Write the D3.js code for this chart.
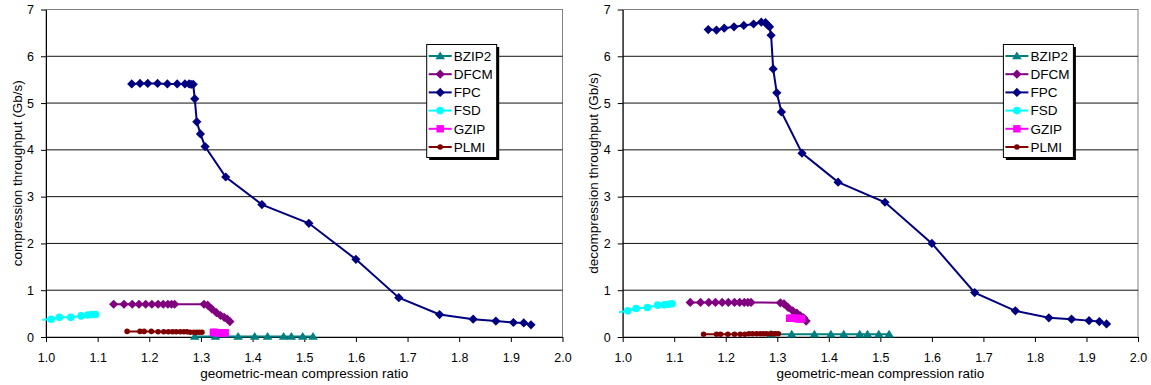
<!DOCTYPE html>
<html>
<head>
<meta charset="utf-8">
<script src="https://cdn.jsdelivr.net/npm/d3@7"></script>
<style>
  body { margin: 0; background: #fff; }
  svg { display: block; font-family: "Liberation Sans", Arial, sans-serif; }
  .tick text { font-size: 12.5px; fill: #000; }
  .title { font-size: 13.5px; fill: #000; }
  .legend text { font-size: 13.5px; fill: #000; }
</style>
</head>
<body>
<svg width="1151" height="385"></svg>
<script>
// data: x is the geometric-mean compression ratio (shared by both panels)
const seriesNames = ['BZIP2', 'DFCM', 'FPC', 'FSD', 'GZIP', 'PLMI']
const xTicks = [1.0, 1.1, 1.2, 1.3, 1.4, 1.5, 1.6, 1.7, 1.8, 1.9, 2.0]
const yTicks = [0, 1, 2, 3, 4, 5, 6, 7]

const ratioBZIP2 = [1.288, 1.328, 1.372, 1.404, 1.429, 1.460, 1.475, 1.497, 1.517]
const compBZIP2 = [0.01, 0.01, 0.01, 0.01, 0.01, 0.01, 0.01, 0.01, 0.01]
const decompBZIP2 = [0.06, 0.06, 0.06, 0.06, 0.06, 0.06, 0.06, 0.06, 0.06]

const ratioDFCM = [1.131, 1.151, 1.167, 1.180, 1.193, 1.205, 1.217, 1.227, 1.236, 1.243, 1.249,
  1.306, 1.313, 1.321, 1.330, 1.338, 1.345, 1.351, 1.356]
const compDFCM = [0.70, 0.70, 0.70, 0.70, 0.70, 0.70, 0.70, 0.70, 0.70, 0.70, 0.70,
  0.70, 0.68, 0.60, 0.52, 0.46, 0.42, 0.38, 0.33]
const decompDFCM = [0.74, 0.74, 0.74, 0.74, 0.74, 0.74, 0.74, 0.74, 0.74, 0.74, 0.74,
  0.73, 0.71, 0.63, 0.56, 0.51, 0.45, 0.41, 0.34]

const ratioFPC = [1.166, 1.182, 1.197, 1.216, 1.235, 1.254, 1.269, 1.277, 1.281, 1.285, 1.288,
  1.292, 1.299, 1.308, 1.348, 1.418, 1.509, 1.600, 1.683, 1.762, 1.827, 1.871, 1.905, 1.925, 1.939]
const compFPC = [5.41, 5.42, 5.42, 5.42, 5.41, 5.41, 5.41, 5.41, 5.40, 5.40, 5.09,
  4.60, 4.34, 4.07, 3.42, 2.83, 2.43, 1.66, 0.84, 0.48, 0.38, 0.34, 0.31, 0.30, 0.26]
const decompFPC = [6.57, 6.56, 6.60, 6.63, 6.66, 6.69, 6.73, 6.72, 6.67, 6.63, 6.45,
  5.73, 5.22, 4.81, 3.93, 3.31, 2.88, 2.00, 0.95, 0.56, 0.41, 0.38, 0.35, 0.33, 0.28]

const ratioFSD = [0.993, 1.010, 1.026, 1.048, 1.068, 1.081, 1.089, 1.096]
const compFSD = [0.37, 0.38, 0.42, 0.42, 0.45, 0.47, 0.48, 0.48]
const decompFSD = [0.53, 0.56, 0.61, 0.63, 0.68, 0.69, 0.70, 0.71]

const ratioGZIP = [1.324, 1.327, 1.330, 1.333, 1.336, 1.339, 1.342, 1.345, 1.347]
const compGZIP = [0.10, 0.10, 0.09, 0.09, 0.09, 0.09, 0.09, 0.09, 0.09]
const decompGZIP = [0.40, 0.40, 0.40, 0.40, 0.40, 0.39, 0.39, 0.39, 0.39]

const ratioPLMI = [1.157, 1.182, 1.190, 1.204, 1.217, 1.228, 1.237, 1.245, 1.252, 1.260, 1.267,
  1.273, 1.279, 1.286, 1.292, 1.297, 1.302]
const compPLMI = [0.12, 0.12, 0.12, 0.12, 0.11, 0.11, 0.11, 0.11, 0.11, 0.11, 0.11,
  0.11, 0.10, 0.10, 0.10, 0.10, 0.10]
const decompPLMI = [0.06, 0.06, 0.06, 0.06, 0.06, 0.06, 0.06, 0.07, 0.07, 0.07, 0.07,
  0.07, 0.07, 0.07, 0.07, 0.07, 0.07]

// styles
const colors = {
  BZIP2: '#008080', DFCM: '#800080', FPC: '#000080',
  FSD: '#00ffff', GZIP: '#ff00ff', PLMI: '#800000'
}
const markers = {
  BZIP2: 'M0,-4.5L4.8,3.2L-4.8,3.2Z',
  DFCM: 'M0,-4.6L4.6,0L0,4.6L-4.6,0Z',
  FPC: 'M0,-4.6L4.6,0L0,4.6L-4.6,0Z',
  FSD: d3.symbol(d3.symbolCircle, 46)(),
  GZIP: 'M-3.7,-3.7H3.7V3.7H-3.7Z',
  PLMI: d3.symbol(d3.symbolCircle, 24)()
}

function zip(xs, ys){
  return xs.map((x, i) => ({x: x, y: ys[i]}))
}

const panels = [
  {
    left: 46, right: 562.5, titleX: 21.5,
    title: 'compression throughput (Gb/s)',
    series: {
      BZIP2: zip(ratioBZIP2, compBZIP2), DFCM: zip(ratioDFCM, compDFCM),
      FPC: zip(ratioFPC, compFPC), FSD: zip(ratioFSD, compFSD),
      GZIP: zip(ratioGZIP, compGZIP), PLMI: zip(ratioPLMI, compPLMI)
    }
  },
  {
    left: 622.7, right: 1138, titleX: 598,
    title: 'decompression throughput (Gb/s)',
    series: {
      BZIP2: zip(ratioBZIP2, decompBZIP2), DFCM: zip(ratioDFCM, decompDFCM),
      FPC: zip(ratioFPC, decompFPC), FSD: zip(ratioFSD, decompFSD),
      GZIP: zip(ratioGZIP, decompGZIP), PLMI: zip(ratioPLMI, decompPLMI)
    }
  }
]

const plotTop = 9.5
const plotBottom = 337
const $svg = d3.select('svg')

panels.forEach((p, pi) => {
  const scaleX = d3.scaleLinear().domain([1, 2]).range([p.left, p.right])
  const scaleY = d3.scaleLinear().domain([0, 7]).range([plotBottom, plotTop])
  const $g = $svg.append('g')

  $g.append('clipPath').attr('id', 'clip' + pi)
    .append('rect')
    .attr('x', p.left).attr('y', plotTop - 6)
    .attr('width', p.right - p.left).attr('height', plotBottom - plotTop + 12)

  // plot area border
  $g.append('rect')
    .attr('x', p.left).attr('y', plotTop)
    .attr('width', p.right - p.left).attr('height', plotBottom - plotTop)
    .attr('fill', 'none').attr('stroke', '#808080')

  // gridlines
  $g.append('g')
    .selectAll('line')
    .data(yTicks.filter(d => d > 0 && d < 7))
    .enter()
    .append('line')
    .attr('x1', p.left).attr('x2', p.right)
    .attr('y1', d => scaleY(d)).attr('y2', d => scaleY(d))
    .attr('stroke', '#111')

  // axes
  $g.append('g')
    .attr('transform', `translate(0, ${plotBottom})`)
    .call(d3.axisBottom(scaleX)
      .tickValues(xTicks)
      .tickSize(5)
      .tickSizeOuter(0)
      .tickPadding(11)
      .tickFormat(d3.format('.1f')))
  $g.append('g')
    .attr('transform', `translate(${p.left}, 0)`)
    .call(d3.axisLeft(scaleY)
      .tickValues(yTicks)
      .tickSize(5)
      .tickSizeOuter(0)
      .tickPadding(7)
      .tickFormat(d3.format('d')))
  $g.selectAll('.domain, .tick line').attr('stroke', '#000')
  $g.selectAll('g text').attr('font-family', null).attr('font-size', null)

  // titles
  $g.append('text')
    .attr('class', 'title')
    .attr('x', (p.left + p.right) / 2)
    .attr('y', 378)
    .attr('text-anchor', 'middle')
    .text('geometric-mean compression ratio')

  $g.append('text')
    .attr('class', 'title')
    .attr('transform', `translate(${p.titleX}, ${(plotTop + plotBottom) / 2}) rotate(-90)`)
    .attr('text-anchor', 'middle')
    .text(p.title)

  // series
  const line = d3.line().x(d => scaleX(d.x)).y(d => scaleY(d.y))
  seriesNames.forEach(name => {
    const $s = $g.append('g').attr('class', 'series')
    $s.append('path')
      .datum(p.series[name])
      .attr('d', line)
      .attr('fill', 'none')
      .attr('stroke', colors[name])
      .attr('stroke-width', 2)
    $s.append('g')
      .attr('clip-path', `url(#clip${pi})`)
      .selectAll('path')
      .data(p.series[name])
      .enter()
      .append('path')
      .attr('d', markers[name])
      .attr('transform', d => `translate(${scaleX(d.x)}, ${scaleY(d.y)})`)
      .attr('fill', colors[name])
  })

  // legend
  const lx = p.left + 380.7
  const ly = 44.5
  const $legend = $g.append('g').attr('class', 'legend')
  $legend.append('rect')
    .attr('x', lx + 2.5).attr('y', ly + 2.5)
    .attr('width', 70).attr('height', 113)
    .attr('fill', '#000')
  $legend.append('rect')
    .attr('x', lx).attr('y', ly)
    .attr('width', 70).attr('height', 113)
    .attr('fill', '#fff').attr('stroke', '#000')

  const items = $legend.selectAll('.item')
    .data(seriesNames)
    .enter()
    .append('g')
    .attr('class', 'item')
    .attr('transform', (d, i) => `translate(${lx}, ${ly + 11.5 + i * 18.2})`)
  items.append('line')
    .attr('x1', 2).attr('x2', 25)
    .attr('stroke', d => colors[d]).attr('stroke-width', 2)
  items.append('path')
    .attr('d', d => markers[d])
    .attr('transform', 'translate(13.5, 0)')
    .attr('fill', d => colors[d])
  items.append('text')
    .attr('x', 27)
    .attr('dy', '0.36em')
    .text(d => d)
})
</script>
</body>
</html>
